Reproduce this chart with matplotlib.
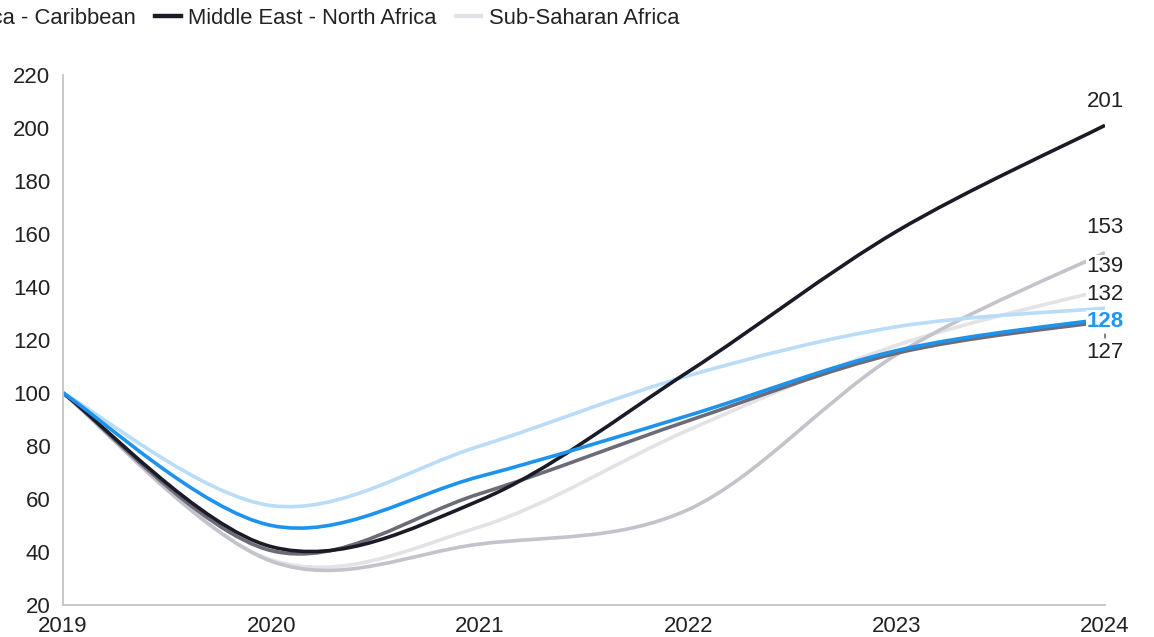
import matplotlib
matplotlib.use("Agg")
import matplotlib.pyplot as plt
from matplotlib.path import Path
from matplotlib.patches import PathPatch
from matplotlib.lines import Line2D
import numpy as np

plt.rcParams["font.family"] = ["Liberation Sans", "DejaVu Sans"]

years = [2019, 2020, 2021, 2022, 2023, 2024]

world = [100, 50, 68.5, 91.5, 116, 128]
east_asia_pacific = [100, 57.5, 80, 106.5, 125, 132]
europe_central_asia = [100, 40.5, 62, 89.5, 115, 127]
latin_america = [100, 36.5, 43, 56, 114.5, 153]
middle_east = [100, 42, 59.5, 108, 161, 201]
sub_saharan = [100, 37, 49.5, 86, 118, 139]

names = ["Sub-Saharan Africa", "Latin America - Caribbean", "Europe - Central Asia",
         "East Asia - Pacific", "Middle East - North Africa", "World"]
series = [sub_saharan, latin_america, europe_central_asia, east_asia_pacific, middle_east, world]
colors = ["#e2e2e7", "#c3c3cb", "#6c6c78", "#b9dcf8", "#1b1b27", "#1e93ee"]

# end label offsets in points (labels were nudged apart in the original)
label_dy = {"Sub-Saharan Africa": 17, "Latin America - Caribbean": 18,
            "Europe - Central Asia": -22, "East Asia - Pacific": 10,
            "Middle East - North Africa": 17, "World": -2}


def smooth_path(x, y):
    # excel-style smoothed line as cubic bezier segments
    pts = np.column_stack([x, y]).astype(float)
    n = len(pts)
    verts = [pts[0]]
    codes = [Path.MOVETO]
    for i in range(n - 1):
        p0 = pts[i - 1] if i > 0 else pts[i]
        p1 = pts[i]
        p2 = pts[i + 1]
        p3 = pts[i + 2] if i + 2 < n else pts[i + 1]
        verts += [p1 + (p2 - p0) / 6, p2 - (p3 - p1) / 6, p2]
        codes += [Path.CURVE4] * 3
    return Path(verts, codes)


fig = plt.figure(figsize=(11.54, 6.37), dpi=100)
ax = fig.add_axes([63 / 1154, 32 / 637, 1042 / 1154, 530 / 637])

for name, vals, c in zip(names, series, colors):
    ax.add_patch(PathPatch(smooth_path(years, vals), facecolor="none", edgecolor=c,
                           lw=2.6, capstyle="butt", joinstyle="round"))

# small leader mark for the label that was pushed down
ax.annotate("", (years[-1], europe_central_asia[-1]), xytext=(0, -12), textcoords="offset points",
            arrowprops=dict(arrowstyle="-", color="#222222", lw=0.8, shrinkA=0, shrinkB=9))

for name, vals, c in zip(names, series, colors):
    end = vals[-1]
    dy = label_dy[name]
    box = dict(facecolor="white", edgecolor="none", pad=0.5)
    if name == "World":
        ax.annotate(f"{end:.0f}", (years[-1], end), xytext=(0, dy), textcoords="offset points",
                    ha="center", va="center", fontsize=16, color="#2196f3", fontweight="bold",
                    bbox=box, zorder=5, annotation_clip=False)
    else:
        ax.annotate(f"{end:.0f}", (years[-1], end), xytext=(0, dy), textcoords="offset points",
                    ha="center", va="center", fontsize=16, color="#222222",
                    bbox=box, zorder=5, annotation_clip=False)

ax.set_xlim(2019, 2024)
ax.set_ylim(20, 220)
ax.set_yticks(range(20, 221, 20))
ax.set_xticks(years)
ax.tick_params(length=0, labelsize=16, labelcolor="#222222")
ax.tick_params(axis="y", pad=9)
ax.tick_params(axis="x", pad=8)
for s in ["top", "right"]:
    ax.spines[s].set_visible(False)
for s in ["left", "bottom"]:
    ax.spines[s].set_color("#c4c4c8")
    ax.spines[s].set_linewidth(1.3)

legend_names = ["Latin America - Caribbean", "Middle East - North Africa", "Sub-Saharan Africa"]
handles = [Line2D([], [], color=colors[names.index(n)], lw=3.2) for n in legend_names]
fig.legend(handles, legend_names, loc="center left", bbox_to_anchor=(-0.1305, 1 - 18 / 637),
           ncol=3, frameon=False, fontsize=15.8, handlelength=1.15, handletextpad=0.33,
           columnspacing=0.9, borderpad=0, borderaxespad=0, labelcolor="#222222")

fig.savefig("out.png", dpi=100)
